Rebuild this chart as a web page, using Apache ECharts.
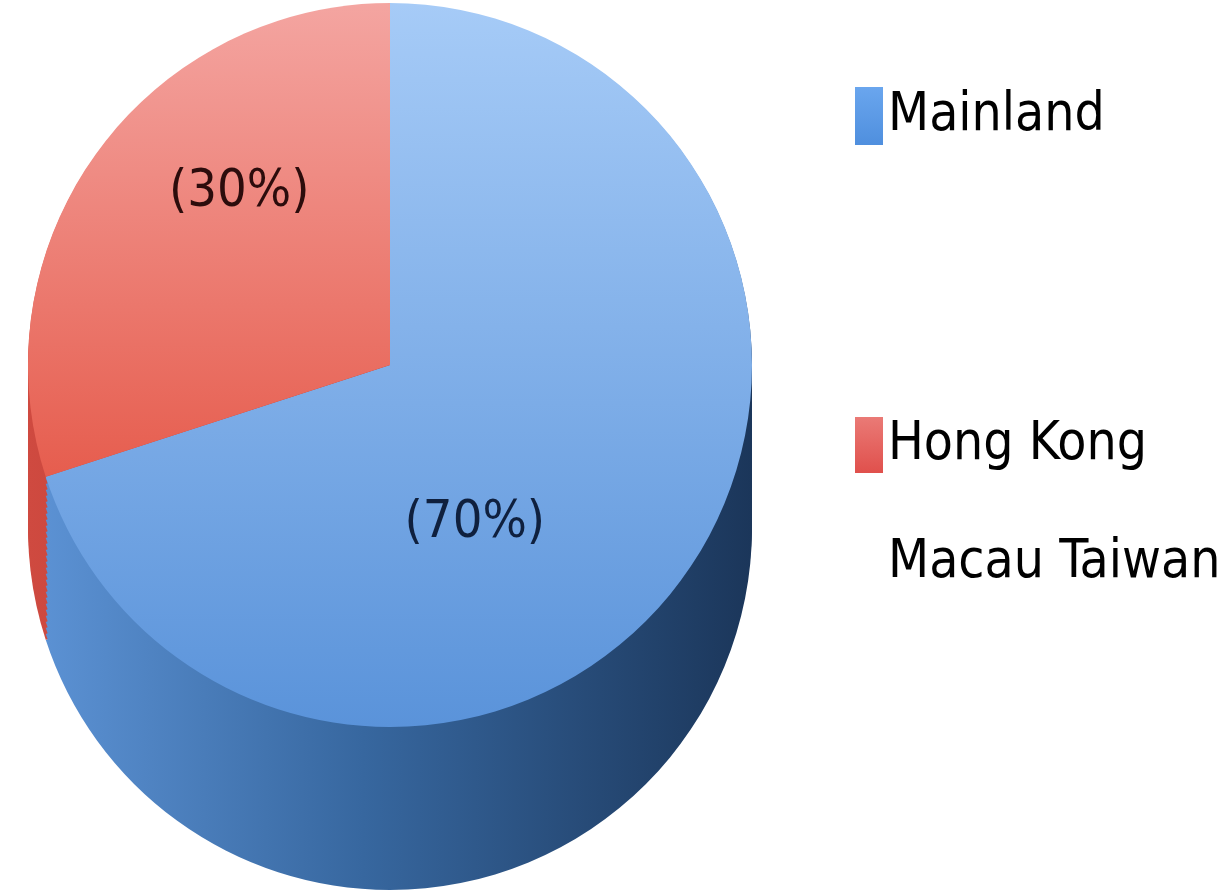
<!DOCTYPE html>
<html lang="en" style="height: 100%">
<head>
    <meta charset="utf-8">
    <title>Pie</title>
    <script src="https://cdn.jsdelivr.net/npm/echarts@6/dist/echarts.min.js"></script>
</head>
<body style="height: 100%; margin: 0; background: #fff;">
<div id="container" style="width: 1223px; height: 894px;"></div>
<script type="text/javascript">
    // data
    var regions = ['Mainland', 'Hong Kong Macau Taiwan'];
    var shares = [70, 30];
    // blank first line so the icon sits beside "Hong Kong"
    var legendText = ['Mainland', ' \nHong Kong\nMacau Taiwan'];

    var FONT = '"Liberation Sans Narrow", "DejaVu Sans Condensed", "Open Sans", sans-serif';

    var dom = document.getElementById('container');
    var myChart = echarts.init(dom, null, {renderer: 'canvas'});

    var cx = 390, cy = 365, R = 362, depth = 163;

    function grad(dir, stops) {
        var c = stops.map(function (s) { return {offset: s[0], color: s[1]}; });
        return dir === 'h' ? new echarts.graphic.LinearGradient(0, 0, 1, 0, c)
                           : new echarts.graphic.LinearGradient(0, 0, 0, 1, c);
    }

    var topColors = [
        grad('v', [[0, '#a6cbf7'], [1, '#5a93da']]),
        grad('v', [[0, '#f4a5a1'], [1, '#e65d4e']])
    ];
    var sideColors = [
        grad('h', [[0, '#5b91d3'], [0.45, '#37679f'], [1, '#1b365a']]),
        grad('h', [[0, '#cf4a40'], [1, '#a8352e']])
    ];

    function pieData(colors, withLabel) {
        return regions.map(function (name, i) {
            var d = {name: name, value: shares[i], itemStyle: {color: colors[i]}};
            if (withLabel) {
                d.label = {color: i === 0 ? '#0f203e' : '#2c0c0c'};
            }
            return d;
        });
    }

    var series = [];
    // side of the cylinder: stacked copies shifted down
    for (var off = depth; off >= 0; off -= 6) {
        series.push({
            type: 'pie',
            silent: true,
            z: 1,
            center: [cx, cy + off],
            radius: R,
            startAngle: 90,
            label: {show: false},
            labelLine: {show: false},
            emphasis: {disabled: true},
            animation: false,
            legendHoverLink: false,
            data: pieData(sideColors, false)
        });
    }
    // top face
    series.push({
        type: 'pie',
        z: 3,
        center: [cx, cy],
        radius: R,
        startAngle: 90,
        animation: false,
        label: {
            show: true,
            position: 'inside',
            formatter: function (p) { return '(' + p.value + '%)'; },
            fontFamily: FONT,
            fontSize: 52
        },
        labelLayout: function (p) {
            return p.dataIndex === 0 ? {dx: -64, dy: 50} : {dx: -2, dy: -64};
        },
        data: pieData(topColors, true)
    });

    var L = 118;
    var option = {
        backgroundColor: '#ffffff',
        legend: [
            {
                data: [{name: regions[0], itemStyle: {color: grad('v', [[0, '#6aa6ee'], [1, '#4f8fde']])}}],
                orient: 'vertical',
                left: 850,
                top: 82,
                icon: 'rect',
                itemWidth: 28,
                itemHeight: 58,
                itemGap: 16,
                formatter: function () { return legendText[0]; },
                textStyle: {fontFamily: FONT, fontSize: 53, color: '#000'}
            },
            {
                data: [{name: regions[1], itemStyle: {color: grad('v', [[0, '#ea7a76'], [1, '#e0504c']])}}],
                orient: 'vertical',
                left: 850,
                top: 440 - 1.5 * L,
                icon: 'rect',
                itemWidth: 28,
                itemHeight: 56,
                itemGap: 16,
                formatter: function () { return legendText[1]; },
                textStyle: {fontFamily: FONT, fontSize: 53, lineHeight: L, color: '#000'}
            }
        ],
        series: series
    };
    myChart.setOption(option);
</script>
</body>
</html>
